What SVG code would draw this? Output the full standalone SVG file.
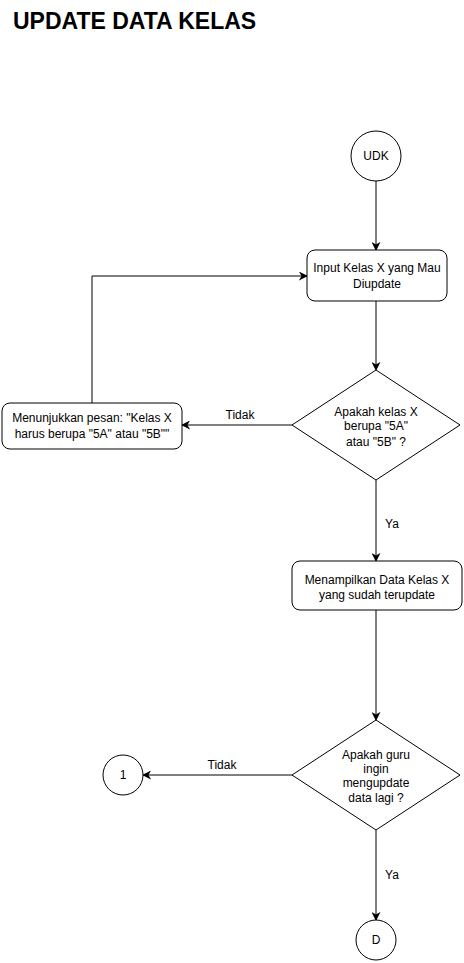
<svg xmlns="http://www.w3.org/2000/svg" width="464" height="963" viewBox="0 0 464 963">
<style>
.s{fill:#fff;stroke:#000;stroke-width:1}
.t{font-family:"Liberation Sans",Arial,sans-serif;font-size:12px;fill:#000;text-anchor:middle}
.c{fill:none;stroke:#000;stroke-width:1}
.title{font-family:"Liberation Sans",Arial,sans-serif;font-size:23px;font-weight:bold;fill:#000}
</style>
<defs>
<marker id="a" viewBox="0 0 10 10" refX="9" refY="5" markerWidth="9" markerHeight="9" markerUnits="userSpaceOnUse" orient="auto">
<path d="M0,0 L10,5 L0,10 L3,5 Z" fill="#000"/>
</marker>
</defs>
<rect width="464" height="963" fill="#fff"/>
<text class="title" x="13" y="29">UPDATE DATA KELAS</text>
<g id="connectors">
<path class="c" d="M376,181 L376,250" marker-end="url(#a)"/>
<path class="c" d="M376,301 L376,370" marker-end="url(#a)"/>
<path class="c" d="M292,425 L182,425" marker-end="url(#a)"/>
<path class="c" d="M92,403 L92,276 L307,276" marker-end="url(#a)"/>
<path class="c" d="M376,480 L376,561" marker-end="url(#a)"/>
<path class="c" d="M376,610 L376,720" marker-end="url(#a)"/>
<path class="c" d="M292,775 L143,775" marker-end="url(#a)"/>
<path class="c" d="M376,830 L376,920" marker-end="url(#a)"/>
<text class="t" x="240" y="419">Tidak</text>
<text class="t" x="392" y="528">Ya</text>
<text class="t" x="222" y="769">Tidak</text>
<text class="t" x="392" y="879">Ya</text>
</g>
<g id="udk">
<circle class="s" cx="376" cy="156" r="25"/>
<text class="t" x="376" y="160">UDK</text>
</g>
<g id="input">
<rect class="s" x="307" y="250" width="140" height="51" rx="8"/>
<text class="t" x="377" y="272">Input Kelas X yang Mau</text>
<text class="t" x="377" y="288">Diupdate</text>
</g>
<g id="cek">
<polygon class="s" points="376,370 460,425 376,480 292,425"/>
<text class="t" x="376" y="416">Apakah kelas X</text>
<text class="t" x="376" y="430">berupa "5A"</text>
<text class="t" x="376" y="446">atau "5B" ?</text>
</g>
<g id="pesan">
<rect class="s" x="2" y="403" width="180" height="46" rx="8"/>
<text class="t" x="92" y="422">Menunjukkan pesan: "Kelas X</text>
<text class="t" x="92" y="438">harus berupa "5A" atau "5B""</text>
</g>
<g id="tampil">
<rect class="s" x="292" y="561" width="170" height="49" rx="8"/>
<text class="t" x="377" y="584">Menampilkan Data Kelas X</text>
<text class="t" x="377" y="599">yang sudah terupdate</text>
</g>
<g id="lagi">
<polygon class="s" points="376,720 460,775 376,830 292,775"/>
<text class="t" x="376" y="759">Apakah guru</text>
<text class="t" x="376" y="773">ingin</text>
<text class="t" x="376" y="787">mengupdate</text>
<text class="t" x="376" y="802">data lagi ?</text>
</g>
<g id="c1">
<circle class="s" cx="123" cy="775" r="20"/>
<text class="t" x="123" y="779">1</text>
</g>
<g id="cD">
<circle class="s" cx="376" cy="940" r="20"/>
<text class="t" x="376" y="944">D</text>
</g>
</svg>
